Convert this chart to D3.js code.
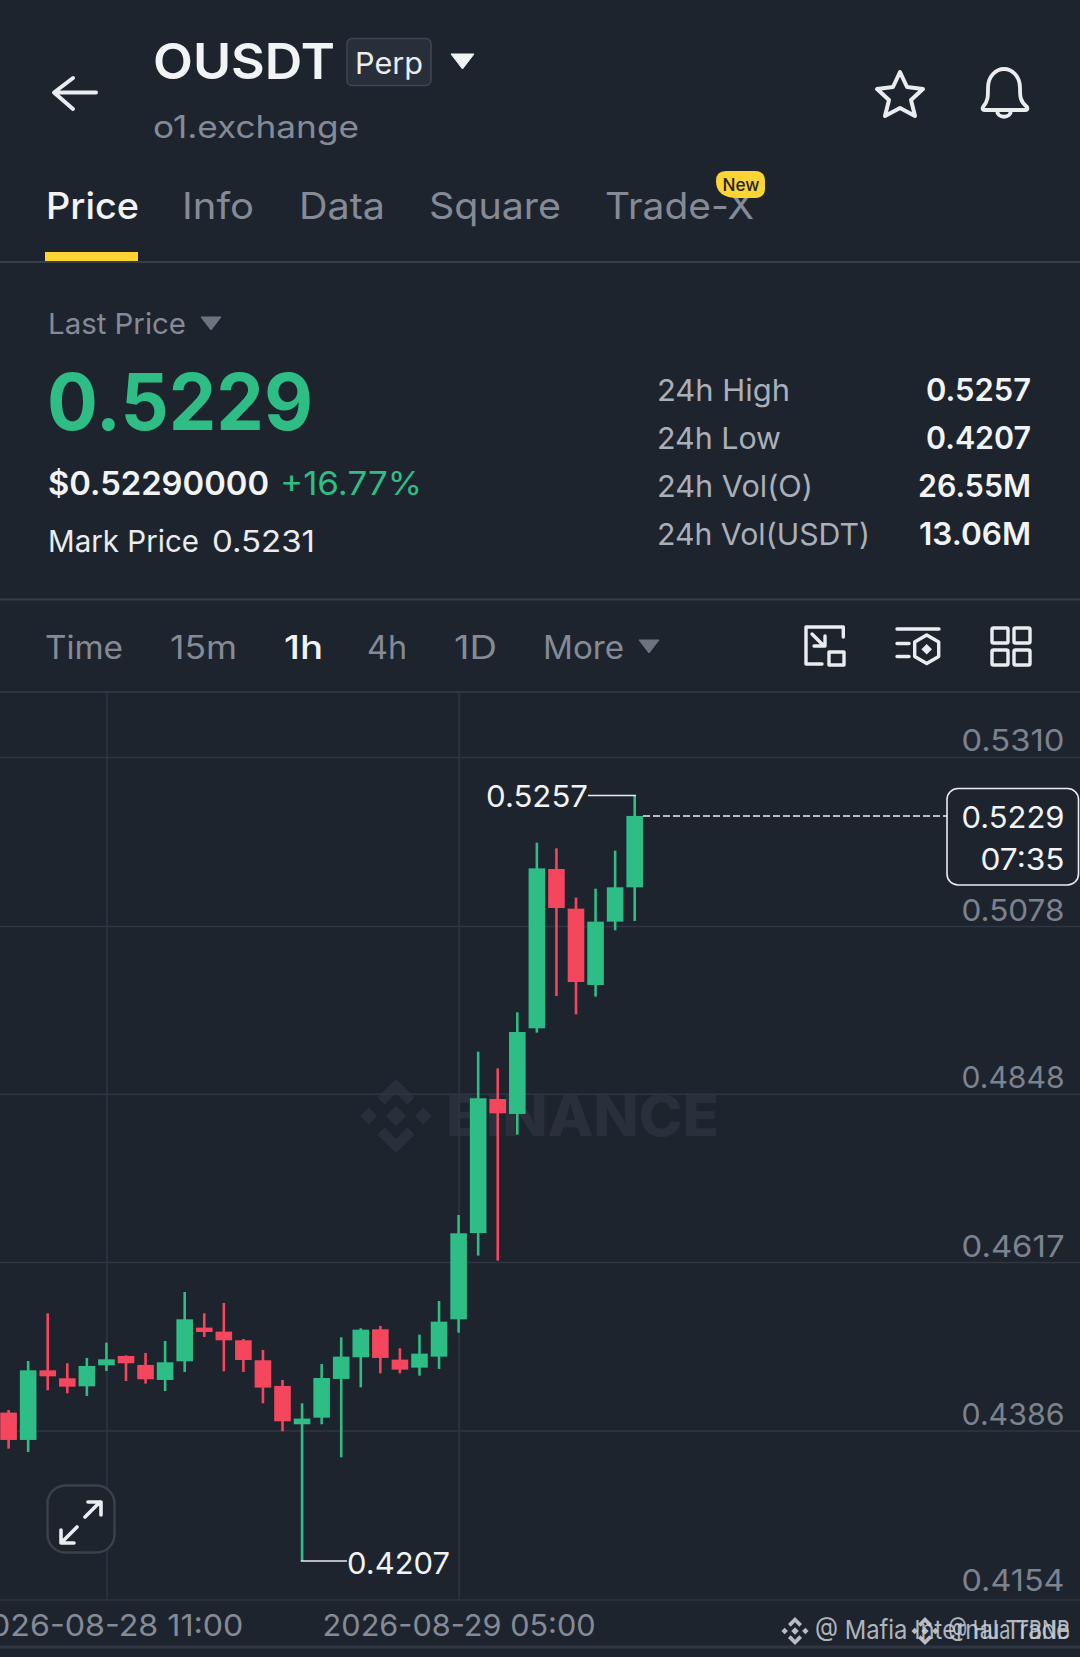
<!DOCTYPE html>
<html>
<head>
<meta charset="utf-8">
<script src="https://cdn.jsdelivr.net/npm/d3@7"></script>
<style>
  html, body { margin: 0; background: #1e242e; }
  svg { display: block; }
  text { font-family: Inter, "Noto Sans", sans-serif; }
</style>
</head>
<body>
<svg id="chart" width="1080" height="1657"></svg>
<script>
// candles, one per hour
const firstHour = "2026-08-28T06:00:00Z";
const lastHour = "2026-08-29T14:00:00Z";

const opens = [.44105, .43730, .44685, .44576, .44466, .44754, .44882, .44759, .44553, .44809, .45271,
  .45216, .45097, .44823, .44471, .43945, .44036, .44567, .44864, .45248, .44832, .44722,
  .44873, .45385, .46569, .48407, .48202, .49377, .51562, .51018, .49971, .50840, .51311];
const highs = [.44141, .44813, .45467, .44782, .44855, .45065, .44891, .44923, .45088, .45760, .45467,
  .45609, .45115, .44964, .44553, .44233, .44772, .45138, .45262, .45294, .44987, .45175,
  .45636, .46816, .49057, .48828, .49596, .51923, .51846, .51169, .51292, .51814, .5257];
const lows = [.43611, .43565, .44411, .44370, .44333, .44676, .44539, .44503, .44402, .44663, .45143,
  .44672, .44663, .44233, .43849, .4207, .43945, .43492, .44452, .44644, .44644, .44612,
  .44704, .45202, .46259, .46190, .47918, .49317, .49820, .49569, .49811, .50721, .50849];
const closes = [.43730, .44685, .44603, .44461, .44745, .44836, .44782, .44562, .44795, .45385, .45211,
  .45097, .44827, .44448, .43986, .44023, .44580, .44873, .45243, .44855, .44695, .44914,
  .45353, .46565, .48417, .48211, .49326, .51571, .51027, .50012, .50840, .51311, .5229];

const priceTicks = [0.5310, 0.5078, 0.4848, 0.4617, 0.4386, 0.4154];
const dateTicks = ["2026-08-28T11:00:00Z", "2026-08-29T05:00:00Z"];

const lastPrice = 0.5229;
const highPrice = 0.5257;
const lowPrice = 0.4207;

const tabs = ["Price", "Info", "Data", "Square", "Trade-X"];
const intervals = ["Time", "15m", "1h", "4h", "1D", "More"];
const statLabels = ["24h High", "24h Low", "24h Vol(O)", "24h Vol(USDT)"];
const statValues = ["0.5257", "0.4207", "26.55M", "13.06M"];

const UP = "#2ebd85", DOWN = "#f6465d", GRID = "#303641", YELLOW = "#fcd535",
      BG = "#1e242e", WHITE = "#eaecef", GREY = "#858b96";

const svg = d3.select("#chart").attr("viewBox", "0 0 1080 1657");

svg.append("rect").attr("width", 1080).attr("height", 1657).attr("fill", BG);

// text helper, w forces the width seen in the screenshot
function label(x, y, str, size, fill, weight, anchor, w) {
  const t = svg.append("text")
    .attr("x", x).attr("y", y)
    .attr("font-size", size)
    .attr("font-weight", weight || 400)
    .attr("text-anchor", anchor || "start")
    .attr("fill", fill)
    .text(str);
  if (w) t.attr("textLength", w).attr("lengthAdjust", "spacingAndGlyphs");
  return t;
}

function tri(x0, x1, y0, y1, fill) {
  svg.append("path")
    .attr("d", `M${x0},${y0}L${x1},${y0}L${(x0 + x1) / 2},${y1}Z`)
    .attr("fill", fill).attr("stroke", fill).attr("stroke-width", 1).attr("stroke-linejoin", "round");
}

function hline(x0, x1, y, color, sw) {
  svg.append("line").attr("x1", x0).attr("x2", x1).attr("y1", y).attr("y2", y)
    .attr("stroke", color).attr("stroke-width", sw);
}

function icon(d, sw, fill) {
  return svg.append("path").attr("d", d)
    .attr("fill", fill || "none").attr("stroke", WHITE).attr("stroke-width", sw)
    .attr("stroke-linecap", "round").attr("stroke-linejoin", "round");
}

// --- header
icon("M96,92.5H55M73,78L54,92.5L73,109", 4);
label(153, 79, "OUSDT", 50, "#f2f3f5", 600, "start", 182);
svg.append("rect").attr("x", 347).attr("y", 38.5).attr("width", 84).attr("height", 47).attr("rx", 5)
  .attr("fill", "#282e3a").attr("stroke", "#3f4552").attr("stroke-width", 1.5);
label(355, 74, "Perp", 30, WHITE, 400, "start", 68);
tri(451, 474, 54, 69, "#f2f3f5");
label(153, 138, "o1.exchange", 31, GREY, 400, "start", 206);

icon("M900,72L907,87L923,89L911,100L915,116L900,108L885,116L889,100L877,89L893,87Z", 4);
icon("M983,107C988,101 988,97 988,88C988,76 996,69 1004,69C1012,69 1020,76 1020,88C1020,97 1020,101 1027,107C1028,109 1027,110 1025,110H985C983,110 982,109 983,107ZM997,110C997,119 1011,119 1011,110", 3.8);

// tabs
const tabX = [46, 182, 299, 429, 605];
const tabW = [93, 72, 86, 132, 149];
tabs.forEach((t, i) => {
  label(tabX[i], 219, t, 37, i === 0 ? "#f2f3f5" : GREY, i === 0 ? 500 : 400, "start", tabW[i]);
});
svg.append("rect").attr("x", 45).attr("y", 252).attr("width", 93).attr("height", 9).attr("fill", YELLOW);
hline(0, 1080, 262, "#383e49", 2);
svg.append("path")
  .attr("d", "M726,171H755Q765,171 765,181V188Q765,198 755,198H738Q716,198 716,181Q716,171 726,171Z")
  .attr("fill", YELLOW);
label(741, 191, "New", 17, "#1e232d", 500, "middle", 37);

// --- price block
label(48, 334, "Last Price", 29, GREY, 400, "start", 138);
tri(201, 221, 317, 330, "#6d7480");
label(47, 430, "0.5229", 78, UP, 700, "start", 266);
label(48, 495, "$0.52290000", 33, "#f2f3f5", 600, "start", 221);
label(280, 495, "+16.77%", 33, UP, 400, "start", 142);
label(48, 552, "Mark Price", 30, WHITE, 400, "start", 151);
label(212, 552, "0.5231", 30, WHITE, 400, "start", 103);

const statY = [401, 449, 497, 545];
const statLabelW = [133, 124, 156, 213];
const statValueW = [105, 105, 113, 112];
statLabels.forEach((t, i) => {
  label(657, statY[i], t, 30, "#aab0ba", 400, "start", statLabelW[i]);
  label(1031, statY[i], statValues[i], 31, "#f2f3f5", 600, "end", statValueW[i]);
});
hline(0, 1080, 599.5, "#383e49", 2);

// --- interval bar
const intervalX = [45, 170, 284, 367, 454, 543];
const intervalW = [78, 67, 39, 40, 43, 81];
intervals.forEach((t, i) => {
  label(intervalX[i], 659, t, 32, i === 2 ? "#f2f3f5" : GREY, i === 2 ? 500 : 400, "start", intervalW[i]);
});
tri(639, 659, 640, 653, "#6d7480");

icon("M843.3,627H806V664H822M843.3,627V637", 3.4);
icon("M829,652H844V665H829Z", 3.4);
icon("M812,634L824,646M825,636V646H814", 3.4);
icon("M897,629H939M897,643.5H909M897,656.5H909", 3.4);
icon("M926.7,635L938.7,642V656.5L926.7,663.5L914.7,656.5V642Z", 3.4);
svg.append("path").attr("d", "M926.7,644L932,649.3L926.7,654.6L921.4,649.3Z").attr("fill", WHITE);
[[992, 628], [1014, 628], [992, 650], [1014, 650]].forEach(p => {
  svg.append("rect").attr("x", p[0]).attr("y", p[1]).attr("width", 16).attr("height", 15).attr("rx", 1.5)
    .attr("fill", "none").attr("stroke", WHITE).attr("stroke-width", 3.4);
});

// --- chart
const plotTop = 692, plotBottom = 1599.6;

const x = d3.scaleUtc()
  .domain([new Date(firstHour), new Date(lastHour)])
  .range([8.6, 634.7]);

const y = d3.scaleLinear()
  .domain([0.4154, 0.5310])
  .range([1599.6, 756.9]);

hline(0, 1080, plotTop, GRID, 2);

// BINANCE watermark sits under the grid
function logo(cx, cy, s, fill, opacity) {
  const g = svg.append("g").attr("transform", `translate(${cx},${cy}) scale(${s})`)
    .attr("fill", fill).attr("opacity", opacity || 1);
  const diamond = (dx, r) => `M${dx - r},0L${dx},${-r}L${dx + r},0L${dx},${r}Z`;
  g.append("path").attr("d", diamond(0, .27));
  g.append("path").attr("d", diamond(-.74, .23));
  g.append("path").attr("d", diamond(.74, .23));
  g.append("path").attr("d", "M0,-1L.5,-.5L.31,-.31L0,-.62L-.31,-.31L-.5,-.5Z");
  g.append("path").attr("d", "M0,1L.5,.5L.31,.31L0,.62L-.31,.31L-.5,.5Z");
}
logo(396, 1116, 37, "#2a303b");
label(446, 1136, "BINANCE", 56, "#2a303b", 800, "start", 273);

// grid and price labels from the axis
const yAxis = svg.append("g")
  .attr("transform", "translate(1080,0)")
  .call(d3.axisLeft(y).tickValues(priceTicks).tickSize(1080).tickFormat(d3.format(".4f")));
yAxis.select(".domain").remove();
yAxis.selectAll("line").attr("stroke", GRID).attr("stroke-width", 1.5);
yAxis.selectAll("text")
  .attr("x", -15.5).attr("dy", 0).attr("y", d => (d === 0.4154 ? -9 : -6))
  .attr("font-size", 30).attr("font-family", "Inter, sans-serif")
  .attr("text-anchor", "end").attr("fill", "#7c838e")
  .attr("textLength", 103).attr("lengthAdjust", "spacingAndGlyphs");

const xAxis = svg.append("g")
  .attr("transform", `translate(0,${plotBottom})`)
  .call(d3.axisBottom(x)
    .tickValues(dateTicks.map(d => new Date(d)))
    .tickSize(plotTop - plotBottom)
    .tickFormat(d3.utcFormat("%Y-%m-%d %H:%M")));
xAxis.select(".domain").remove();
xAxis.selectAll("line").attr("stroke", GRID).attr("stroke-width", 1.5);
xAxis.selectAll("text")
  .attr("y", 36).attr("dy", 0)
  .attr("font-size", 30).attr("font-family", "Inter, sans-serif")
  .attr("text-anchor", "middle").attr("fill", "#858b96")
  .attr("textLength", 273).attr("lengthAdjust", "spacingAndGlyphs");

hline(0, 1080, 1647, "#303641", 3);

// candles
const hours = d3.utcHour.range(new Date(firstHour), d3.utcHour.offset(new Date(lastHour), 1));
const candles = hours.map((t, i) => ({ t, o: opens[i], h: highs[i], l: lows[i], c: closes[i] }));
const color = d => (d.c >= d.o ? UP : DOWN);

const candle = svg.append("g").selectAll("g")
  .data(candles)
  .enter()
  .append("g");

candle.append("line")
  .attr("x1", d => x(d.t)).attr("x2", d => x(d.t))
  .attr("y1", d => y(d.h)).attr("y2", d => y(d.l))
  .attr("stroke", color).attr("stroke-width", 2.6);

candle.append("rect")
  .attr("x", d => x(d.t) - 8.3)
  .attr("width", 16.6)
  .attr("y", d => y(Math.max(d.o, d.c)))
  .attr("height", d => Math.abs(y(d.o) - y(d.c)))
  .attr("fill", color);

// high / low call-outs
const hiCandle = candles[d3.maxIndex(candles, d => d.h)];
const loCandle = candles[d3.minIndex(candles, d => d.l)];

hline(588, x(hiCandle.t) + 1.3, y(highPrice), WHITE, 1.6);
label(588, 807, d3.format(".4f")(highPrice), 30, "#f2f3f5", 400, "end", 102);
hline(x(loCandle.t) - 1.3, 347, y(lowPrice), WHITE, 1.6);
label(347, 1574, d3.format(".4f")(lowPrice), 30, "#f2f3f5", 400, "start", 103);

// current price line and box
svg.append("line")
  .attr("x1", x(hours[hours.length - 1]) + 8.3).attr("x2", 947)
  .attr("y1", y(lastPrice)).attr("y2", y(lastPrice))
  .attr("stroke", WHITE).attr("stroke-width", 1.5)
  .attr("stroke-dasharray", "7,3");
svg.append("rect").attr("x", 947).attr("y", 788.5).attr("width", 131.5).attr("height", 96.5).attr("rx", 11)
  .attr("fill", BG).attr("stroke", WHITE).attr("stroke-width", 1.6);
label(1064.5, 828, d3.format(".4f")(lastPrice), 30, "#f2f3f5", 400, "end", 103);
label(1064.5, 870, "07:35", 30, "#f2f3f5", 400, "end", 84);

// expand button
svg.append("rect").attr("x", 47.5).attr("y", 1485.5).attr("width", 67).attr("height", 67).attr("rx", 18)
  .attr("fill", BG).attr("stroke", "#3b414c").attr("stroke-width", 2.4);
icon("M85,1517L100,1502M88,1502H101V1515M77,1527L62,1542M61,1530V1543H74", 3.6);

// screenshot stamps at the bottom right
logo(795, 1631, 14, "#c9ced6", .9);
label(815, 1639, "@ Mafia Internal Trade", 26, "#c9ced6", 400, "start", 255).attr("opacity", .85);
logo(925, 1631, 14, "#c9ced6", .9);
label(948, 1639, "@ Hua TBNB", 26, "#c9ced6", 400, "start", 122).attr("opacity", .85);
</script>
</body>
</html>
